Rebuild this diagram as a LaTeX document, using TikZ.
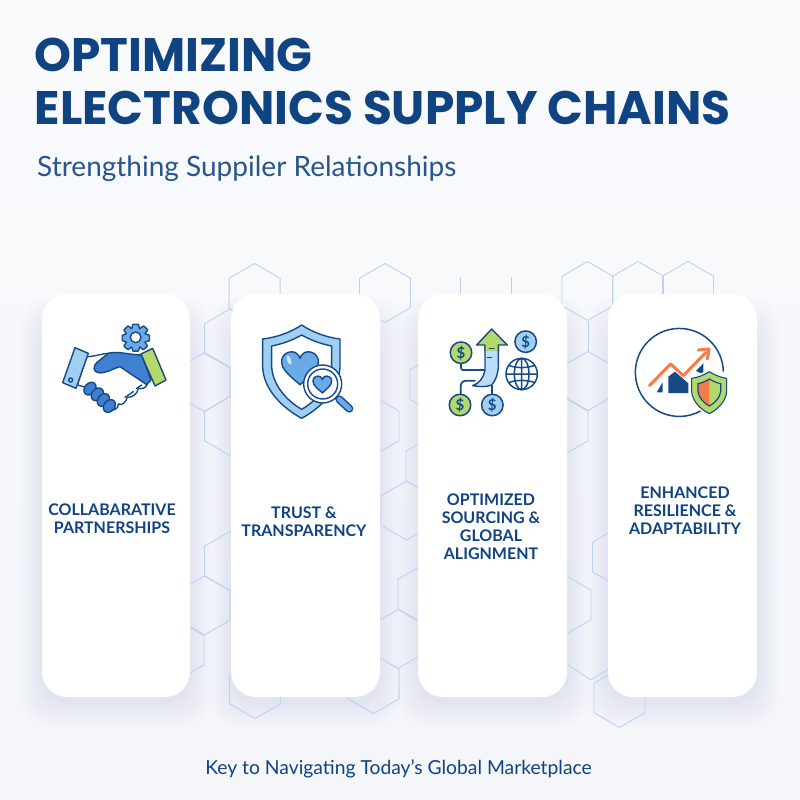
\documentclass[tikz,border=0pt]{standalone}
\usepackage{fontspec}
\setmainfont{Lato}
\newfontfamily\titlefont{Poppins}
\usetikzlibrary{arrows.meta}
\definecolor{navy}{HTML}{0F4381}
\definecolor{ink}{HTML}{164A85}
\definecolor{midb}{HTML}{3F80D0}
\definecolor{softb}{HTML}{6AAAE8}
\definecolor{lightb}{HTML}{A0CFF4}
\definecolor{paleb}{HTML}{BBDDF7}
\definecolor{leaf}{HTML}{B3D86B}
\definecolor{coral}{HTML}{F47C48}
\definecolor{hexline}{HTML}{BDD1F0}
\definecolor{bgtop}{HTML}{F9FAFC}
\definecolor{bgbot}{HTML}{F4F6FA}
\definecolor{shadowc}{HTML}{4A70D0}
\tikzset{
  hexa/.style={draw=hexline,line width=.9pt,line join=round},
  card/.style={fill=white,rounded corners=25pt},
  lbl/.style={text=navy,font=\fontsize{16}{18}\selectfont\bfseries,align=center,inner sep=0pt,anchor=center},
  ic/.style={draw=ink,line width=1.4pt,line join=round,line cap=round},
  coinlbl/.style={text=ink,font=\fontsize{15}{15}\selectfont\bfseries,inner sep=0pt}
}
\newcommand\hx[2]{\draw[hexa] (#1,#2-29.5)--(#1+25.5,#2-14.75)--(#1+25.5,#2+14.75)--(#1,#2+29.5)--(#1-25.5,#2+14.75)--(#1-25.5,#2-14.75)--cycle;}
\newcommand\hrt[4]{\begin{scope}[shift={(#1,#2)},scale=#3]\path[#4] (0,.95) .. controls (-.5,.5) and (-1,.15) .. (-1,-.3) .. controls (-1,-.7) and (-.7,-.85) .. (-.45,-.85) .. controls (-.25,-.85) and (-.08,-.72) .. (0,-.5) .. controls (.08,-.72) and (.25,-.85) .. (.45,-.85) .. controls (.7,-.85) and (1,-.7) .. (1,-.3) .. controls (1,.15) and (.5,.5) .. (0,.95) -- cycle;\end{scope}}
\newcommand\shadowfor[4]{\foreach \i in {1,...,9}{\fill[fill=shadowc,fill opacity=.012,rounded corners=30pt] (#1-\i*2.4,#2+32-\i*3.2) rectangle (#3+\i*2.4,#4+\i*2.8+4);}}
\newcommand\coin[4]{\node[circle,draw=ink,line width=1.5pt,fill=#3,minimum size=#4,inner sep=0pt,coinlbl] (#1) at #2 {\$};}
\begin{document}
\begin{tikzpicture}[x=1pt,y=-1pt]
\useasboundingbox (0,0) rectangle (800,800);
\shade[top color=bgtop,bottom color=bgbot] (0,0) rectangle (800,800);
% shadows
\shadowfor{42}{294}{190}{697}
\shadowfor{231}{294}{380}{697}
\shadowfor{418}{294}{567}{697}
\shadowfor{608}{294}{757}{697}
% hexagon pattern
\hx{254.6}{293}\hx{385}{293}\hx{587.5}{291}\hx{638}{291}\hx{688}{291}
\hx{230}{338.5}\hx{204.4}{382}\hx{230}{426}\hx{373.5}{426}\hx{435.5}{384.5}
\hx{431.5}{466}\hx{406.5}{510.5}\hx{588}{381}\hx{562.5}{426}
\hx{230}{561}\hx{204.4}{605.5}\hx{178.5}{650}\hx{255}{689}\hx{373.6}{684}
\hx{398}{639}\hx{423.5}{594}\hx{565.5}{605}\hx{618}{557}\hx{619.5}{698}
\draw[hexa] (460.4,277)--(460.4,300) (511,277)--(511,300) (588,321)--(588,352);
\draw[hexa] (565,663)--(591,680)--(610,668);
% cards
\node[card,minimum width=148pt,minimum height=403pt,inner sep=0pt] (c1) at (116,495.5) {};
\node[card,minimum width=149pt,minimum height=403pt,inner sep=0pt] (c2) at (305.5,495.5) {};
\node[card,minimum width=149pt,minimum height=403pt,inner sep=0pt] (c3) at (492.5,495.5) {};
\node[card,minimum width=149pt,minimum height=403pt,inner sep=0pt] (c4) at (682.5,495.5) {};
% titles
\node[anchor=base west,inner sep=0pt,text=navy,font=\titlefont\fontsize{47}{47}\selectfont\bfseries] (t1) at (34.5,71) {OPTIMIZING};
\node[anchor=base west,inner sep=0pt,text=navy,font=\titlefont\fontsize{47}{47}\selectfont\bfseries] (t2) at (34.5,124) {ELECTRONICS SUPPLY CHAINS};
\node[anchor=base west,inner sep=0pt,text=navy!90!white,font=\fontsize{28}{28}\selectfont] (sub) at (37,176) {Strengthing Suppiler Relationships};
\node[anchor=base,inner sep=0pt,text=navy,font=\fontsize{19.3}{19.3}\selectfont] (foot) at (398.5,774) {Key to Navigating Today’s Global Marketplace};
% labels
\node[lbl] (l1) at (112,519) {COLLABARATIVE\\PARTNERSHIPS};
\node[lbl] (l2) at (304,522) {TRUST \&\\TRANSPARENCY};
\node[lbl] (l3) at (491,527) {OPTIMIZED\\SOURCING \&\\GLOBAL\\ALIGNMENT};
\node[lbl] (l4) at (685,511) {ENHANCED\\RESILIENCE \&\\ADAPTABILITY};
% ---- icon 1 handshake
\begin{scope}[shift={(40,300)},scale=1/3]
 \fill[ic,fill=white] (140,170) .. controls (165,170) and (185,160) .. (210,160) -- (260,200) -- (322,252) .. controls (318,265) and (305,268) .. (295,265) .. controls (292,285) and (275,292) .. (262,292) .. controls (258,305) and (248,318) .. (235,312) .. controls (235,328) and (220,332) .. (210,330) -- (150,265) -- (112,255) -- cycle;
 \fill[ic,fill=midb] (205,160) .. controls (235,152) and (270,165) .. (305,165) -- (333,240) -- (320,254) -- (240,200) .. controls (220,205) and (195,222) .. (175,218) .. controls (160,215) and (158,200) .. (170,188) -- cycle;
 \draw[ic] (255,292) -- (280,275) (290,265) -- (305,255);
 \foreach \p/\q in {150/266,172/283,190/300,208/318}{\fill[ic,fill=midb] (\p,\q) ellipse[x radius=21,y radius=16,rotate=-130];}
 \fill[ic,fill=lightb] (105,143)--(145,160)--(108,265)--(68,248)--cycle;
 \draw[ic] (92,240) circle (6);
 \fill[ic,fill=leaf] (303,162)--(338,145)--(378,240)--(345,258)--cycle;
 \fill[ic,fill=softb] plot[smooth cycle,tension=.15] coordinates {(279,73)(295,73)(299,86)(311,78)(323,90)(315,101)(328,106)(328,122)(315,126)(322,138)(310,149)(299,141)(295,153)(279,153)(275,141)(264,149)(252,138)(259,126)(247,122)(247,106)(259,101)(252,90)(264,78)(275,86)};
 \fill[ic,fill=white] (287,112) circle (16);
\end{scope}
% ---- icon 2 shield
\begin{scope}[shift={(240,310)},scale=1/3]
 \fill[ic,fill=lightb] (185,45) .. controls (220,68) and (260,82) .. (300,87) -- (300,170) .. controls (298,240) and (240,295) .. (185,325) .. controls (130,295) and (70,240) .. (68,170) -- (68,87) .. controls (110,82) and (150,68) .. (185,45) -- cycle;
 \fill[ic,fill=white] (185,75) .. controls (215,92) and (245,102) .. (275,108) -- (275,170) .. controls (272,225) and (230,272) .. (185,298) .. controls (140,272) and (98,225) .. (95,170) -- (95,108) .. controls (125,102) and (155,92) .. (185,75) -- cycle;
 \hrt{180}{172}{55}{draw=ink,line width=1.4pt,fill=softb}
 \fill[white,opacity=.7] (147,150) ellipse[x radius=6,y radius=14,rotate=20];
 \fill[ic,fill=white] (248,222) circle (57);
 \draw[ic] (248,222) circle (45);
 \hrt{247}{222}{28}{draw=ink,line width=1.4pt,fill=softb}
 \draw[ink,line width=8pt,line cap=round] (298,268)--(328,296);
 \draw[softb,line width=5pt,line cap=round] (298,268)--(328,296);
\end{scope}
% ---- icon 3 sourcing
\begin{scope}[shift={(430,315)},scale=1/3]
 \draw[ic,line width=1.7pt] (93,145)--(93,155) .. controls (93,165) and (95,165) .. (105,165) -- (165,165);
 \draw[ic,line width=1.7pt] (135,197)--(110,197) .. controls (97,197) and (92,205) .. (92,215) -- (92,240);
 \draw[ic,line width=1.7pt] (185,212)--(185,240);
 \fill[ic,fill=paleb] (165,90) -- (165,165) .. controls (160,190) and (148,205) .. (128,212) .. controls (150,216) and (170,216) .. (185,210) .. controls (198,195) and (205,175) .. (205,150) -- (205,90) -- cycle;
 \fill[leaf] (185,42)--(232,90)--(205,90)--(205,108)--(165,108)--(165,90)--(140,90)--cycle;
 \draw[ic] (165,108)--(165,90)--(140,90)--(185,42)--(232,90)--(205,90)--(205,108);
 \draw[ic,line width=1.4pt] (178,101)--(192,101) (172,128)--(185,128);
 \coin{k1}{(93,113)}{leaf}{21.5pt}
 \coin{k2}{(287,80)}{lightb}{21.5pt}
 \coin{k3}{(90,270)}{leaf}{21.5pt}
 \coin{k4}{(187,270)}{lightb}{21.5pt}
 \draw[ink,line width=1.5pt,fill=white] (275,177) circle (47);
 \draw[ink,line width=1.5pt] (275,177) ellipse[x radius=22,y radius=47] (275,130)--(275,224) (228,177)--(322,177);
 \draw[ink,line width=1.5pt] (236,151) .. controls (258,160) and (292,160) .. (314,151) (236,203) .. controls (258,194) and (292,194) .. (314,203);
\end{scope}
% ---- icon 4 resilience
\begin{scope}[shift={(620,315)},scale=1/3]
 \draw[ink,line width=1.5pt] (310,170) arc[start angle=-1,end angle=-300,radius=132];
 \fill[ink] (110,232)--(128,202)--(128,232)--cycle;
 \fill[ink] (145,234)--(145,185)--(165,170)--(205,205)--(205,234)--cycle;
 \fill[ink] (228,168)--(250,145)--(250,178)--cycle;
 \draw[coral,line width=3pt,line cap=round,line join=round] (88,212)--(152,147)--(190,182)--(258,112);
 \draw[coral,line width=3pt,line cap=round,line join=round] (235,105)--(267,102)--(262,132);
 \fill[white] (268,162) .. controls (285,174) and (305,181) .. (328,184) -- (328,230) .. controls (326,262) and (298,290) .. (268,304) .. controls (238,290) and (209,262) .. (207,230) -- (207,184) .. controls (230,181) and (250,174) .. (268,162) -- cycle;
 \fill[draw=ink,line width=1.1pt,fill=leaf] (268,170) .. controls (285,181) and (304,188) .. (320,190) -- (320,230) .. controls (318,258) and (294,283) .. (268,296) .. controls (241,283) and (217,258) .. (215,230) -- (215,190) .. controls (232,188) and (250,181) .. (268,170) -- cycle;
 \fill[coral] (268,192) .. controls (257,199) and (245,204) .. (234,206) -- (234,230) .. controls (236,248) and (252,265) .. (268,273) -- cycle;
 \draw[ink,line width=1.2pt] (268,192) .. controls (280,199) and (291,204) .. (302,206) -- (302,230) .. controls (300,248) and (284,265) .. (268,273) .. controls (252,265) and (236,248) .. (234,230) -- (234,206) .. controls (245,204) and (257,199) .. (268,192) -- cycle;
\end{scope}
\end{tikzpicture}
\end{document}
